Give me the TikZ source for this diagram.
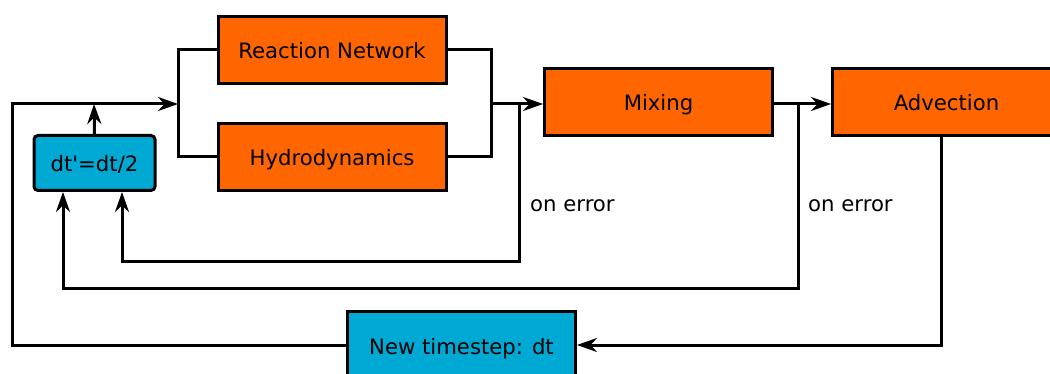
\documentclass[tikz,border=0pt]{standalone}
\usepackage{fontspec}
\setmainfont{DejaVu Sans}[Ligatures=TeXOff]
\usetikzlibrary{arrows.meta}
\definecolor{boxorange}{HTML}{FF6600}
\definecolor{boxcyan}{HTML}{00A8D4}
\begin{document}
\begin{tikzpicture}[x=1pt,y=-1pt,
  procbox/.style={draw=black,line width=3pt,fill=boxorange,minimum width=228pt,minimum height=67pt,inner sep=0pt,text height=18pt,text depth=0pt,font=\fontsize{21.2}{25}\selectfont},
  cyanbox/.style={draw=black,line width=3pt,fill=boxcyan,minimum width=228pt,minimum height=67pt,inner sep=0pt,text height=18pt,text depth=0pt,font=\fontsize{21.2}{25}\selectfont},
  conn/.style={line width=3pt,draw=black},
  arr/.style={conn,-{Stealth[length=20pt,width=14pt,inset=6.5pt]}},
  lbl/.style={font=\fontsize{21.2}{25}\selectfont,anchor=west,inner sep=0pt}]
\useasboundingbox (0,0) rectangle (1050,374);
\clip (0,0) rectangle (1050,374);
\node[procbox] (rn) at (332,50) {Reaction Network};
\node[procbox] (hy) at (332,157) {Hydrodynamics};
\node[procbox] (mx) at (658.5,102) {Mixing};
\node[procbox] (ad) at (946.5,102) {Advection};
\node[cyanbox,minimum width=121pt,minimum height=55pt,rounded corners=4pt] (dt) at (94.5,163) {dt'=dt/2};
\node[cyanbox] (ns) at (461.5,345) {New timestep: dt};
\coordinate (lb) at (178,104);
\coordinate (rb) at (491,104);
\coordinate (j1) at (519,104);
\coordinate (j2) at (798,104);
\coordinate (jt) at (94,104);
% brackets
\draw[conn] (rn.west) -| (lb) |- (hy.west);
\draw[conn] (rn.east) -| (rb) |- (hy.east);
\draw[arr] (rb) -- (mx.west |- rb);
\draw[arr] (mx.east |- j2) -- (ad.west |- j2);
% error loops
\draw[arr] (j1) -- (519,262) -| ([xshift=27.5pt]dt.south);
\draw[arr] (j2) -- (798,289) -| ([xshift=-31.5pt]dt.south);
% advection to new timestep
\draw[arr] (ad.south -| 941,0) -- (941,345) -- (ns.east);
% new timestep back
\draw[arr] (ns.west) -| (12,104) -- (lb);
\draw[arr] (dt.north) -- (jt);
\node[lbl] (e1) at (530,206) {on error};
\node[lbl] (e2) at (808,206) {on error};
\end{tikzpicture}
\end{document}
